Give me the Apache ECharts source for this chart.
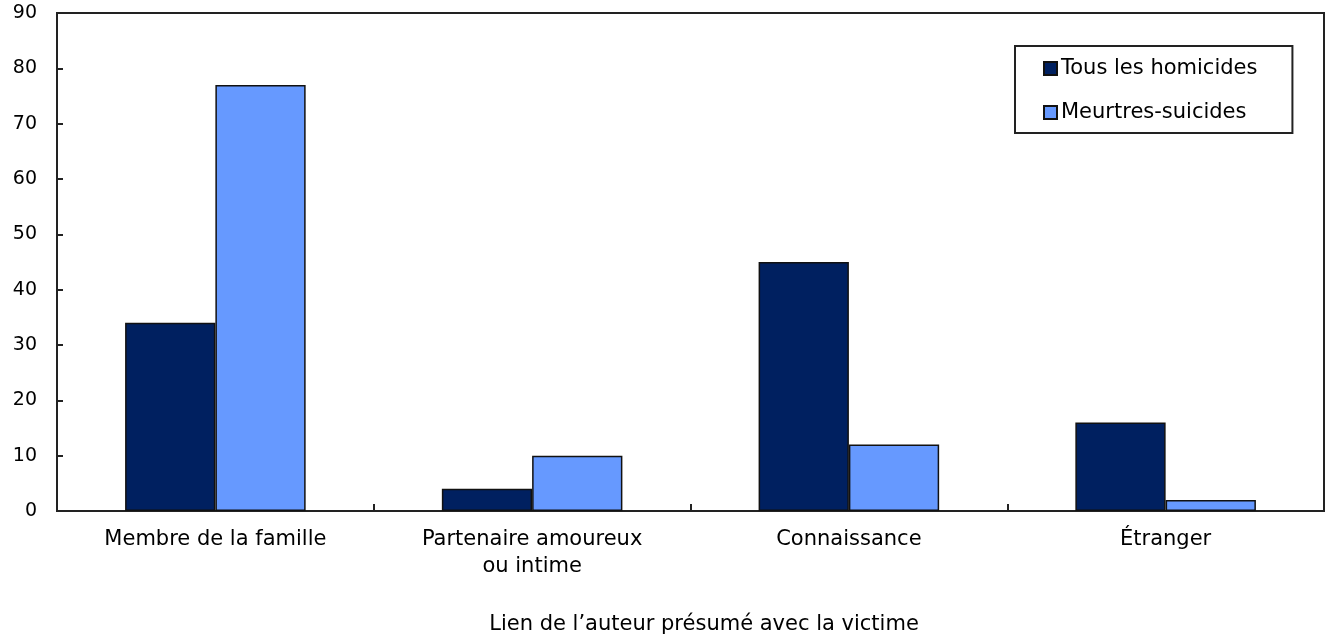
<!DOCTYPE html>
<html>
<head>
<meta charset="utf-8">
<script src="https://cdn.jsdelivr.net/npm/echarts@6/dist/echarts.min.js"></script>
<style>
  html, body { margin: 0; padding: 0; background: #fff; }
  #chart { width: 1326px; height: 637px; }
</style>
</head>
<body>
<div id="chart"></div>
<script>
// données
const categories = ['Membre de la famille', 'Partenaire amoureux\nou intime', 'Connaissance', 'Étranger'];
const tousHomicides = [34, 4, 45, 16];
const meurtresSuicides = [77, 10, 12, 2];
const seriesNames = ['Tous les homicides', 'Meurtres-suicides'];
const xAxisTitle = 'Lien de l\u2019auteur présumé avec la victime';

const font = '"DejaVu Sans", Verdana, sans-serif';
const lineCol = '#222';

const chart = echarts.init(document.getElementById('chart'));
chart.setOption({
  animation: false,
  textStyle: { fontFamily: font },
  grid: {
    left: 57, right: 2, top: 13, bottom: 126,
    show: true, borderColor: lineCol, borderWidth: 2
  },
  legend: {
    orient: 'vertical',
    left: 1015, top: 46,
    data: seriesNames,
    itemWidth: 13, itemHeight: 13, itemGap: 23,
    padding: [12, 35, 10, 28],
    borderColor: lineCol, borderWidth: 2,
    textStyle: { fontSize: 21, color: '#000', padding: [0, 0, 0, -1] },
    icon: 'rect'
  },
  xAxis: {
    type: 'category',
    data: categories,
    axisLine: { lineStyle: { color: lineCol, width: 2 } },
    axisTick: { show: true, inside: true, length: 7, lineStyle: { color: lineCol, width: 2 } },
    axisLabel: { color: '#000', fontSize: 21, margin: 15, lineHeight: 27 }
  },
  yAxis: {
    type: 'value',
    min: 0, max: 90, interval: 10,
    splitLine: { show: false },
    axisLine: { show: true, lineStyle: { color: lineCol, width: 2 } },
    axisTick: { show: true, inside: true, length: 6, lineStyle: { color: lineCol, width: 2 } },
    axisLabel: { color: '#000', fontSize: 19, margin: 20 }
  },
  graphic: [{
    type: 'text',
    x: 704, y: 625,
    style: { text: xAxisTitle, fill: '#000', font: '21px ' + font, textAlign: 'center', textVerticalAlign: 'middle' }
  }],
  series: [
    {
      name: seriesNames[0], type: 'bar', data: tousHomicides,
      barWidth: '28.5%', barGap: '0%',
      itemStyle: { color: '#002060', borderColor: '#111', borderWidth: 1.5 }
    },
    {
      name: seriesNames[1], type: 'bar', data: meurtresSuicides,
      barWidth: '28.5%',
      itemStyle: { color: '#6699FF', borderColor: '#111', borderWidth: 1.5 }
    }
  ]
});
</script>
</body>
</html>
